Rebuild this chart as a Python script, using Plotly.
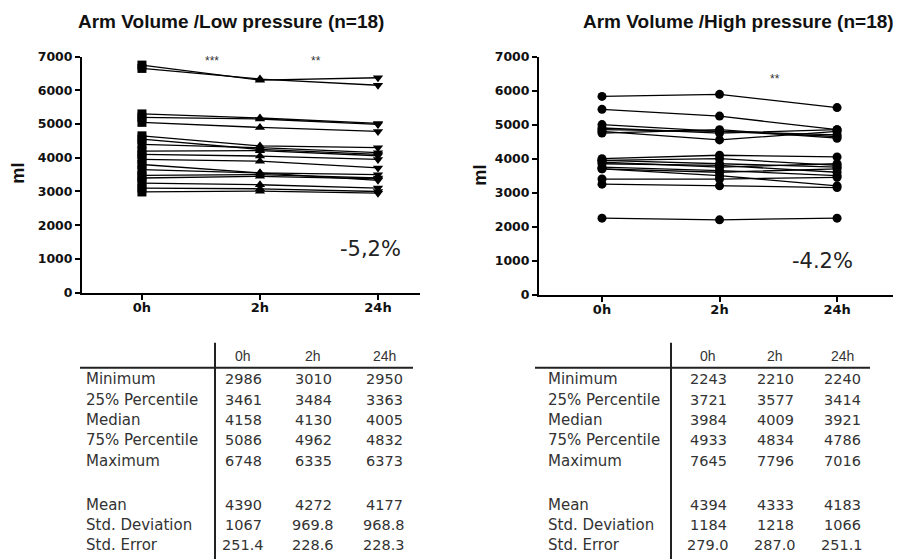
import plotly.graph_objects as go

W, H = 901, 559
OFFX = 8                    # page body margin (horizontal)
SY, OFFY = 0.973, 16.4      # observed vertical mapping of the photographed page
times = ["0h", "2h", "24h"]

# Low pressure arm volumes (ml), 18 subjects: 0h, 2h, 24h
low_0h  = [2986, 3100, 3250, 3400, 3480, 3650, 3800, 3950, 4100, 4200, 4400, 4550, 4650, 5050, 5200, 5300, 6650, 6748]
low_2h  = [3010, 3080, 3200, 3450, 3500, 3550, 3550, 3900, 4050, 4210, 4300, 4250, 4350, 4900, 5150, 5180, 6335, 6300]
low_24h = [2950, 3000, 3100, 3374, 3400, 3330, 3500, 3700, 3950, 4060, 4150, 4100, 4300, 4780, 4990, 5020, 6150, 6373]

# High pressure arm volumes (ml), 18 subjects
high_0h  = [2250, 3250, 3400, 3700, 3700, 3750, 3850, 3900, 3950, 3950, 4000, 4750, 4800, 4850, 4900, 5000, 5450, 5830]
high_2h  = [2200, 3200, 3400, 3600, 3500, 3650, 3800, 3750, 4000, 3850, 4100, 4850, 4550, 4800, 4750, 4800, 5250, 5890]
high_24h = [2250, 3150, 3450, 3700, 3200, 3500, 3600, 3850, 3800, 3750, 4050, 4600, 4800, 4700, 4850, 4650, 4850, 5500]

stat_rows = ["Minimum", "25% Percentile", "Median", "75% Percentile", "Maximum", "", "Mean", "Std. Deviation", "Std. Error"]
low_tab_0h  = ["2986", "3461", "4158", "5086", "6748", "", "4390", "1067", "251.4"]
low_tab_2h  = ["3010", "3484", "4130", "4962", "6335", "", "4272", "969.8", "228.6"]
low_tab_24h = ["2950", "3363", "4005", "4832", "6373", "", "4177", "968.8", "228.3"]
high_tab_0h  = ["2243", "3721", "3984", "4933", "7645", "", "4394", "1184", "279.0"]
high_tab_2h  = ["2210", "3577", "4009", "4834", "7796", "", "4333", "1218", "287.0"]
high_tab_24h = ["2240", "3414", "3921", "4786", "7016", "", "4183", "1066", "251.1"]

ARIAL = "Liberation Sans, Arial, sans-serif"
WIDE = "DejaVu Sans, Verdana, sans-serif"

def px(x):
    return (x - OFFX) / W

def py(y):
    return 1 - ((y - OFFY) / SY) / H

fig = go.Figure()

for a, b, c in zip(low_0h, low_2h, low_24h):
    fig.add_trace(go.Scatter(
        x=times, y=[a, b, c], mode="lines+markers", xaxis="x", yaxis="y",
        line=dict(color="black", width=1.3),
        marker=dict(symbol=["square", "triangle-up", "triangle-down"], size=9, color="black"),
        showlegend=False, cliponaxis=False))

for a, b, c in zip(high_0h, high_2h, high_24h):
    fig.add_trace(go.Scatter(
        x=times, y=[a, b, c], mode="lines+markers", xaxis="x2", yaxis="y2",
        line=dict(color="black", width=1.3),
        marker=dict(symbol="circle", size=9, color="black"),
        showlegend=False, cliponaxis=False))

axis_common = dict(showline=True, linecolor="black", linewidth=2, ticks="outside",
                   ticklen=5, tickwidth=2, tickcolor="black", showgrid=False, zeroline=False,
                   fixedrange=True)
xfont = dict(family=WIDE, size=13, color="#111", weight="bold")
yfont = dict(family=WIDE, size=12.5, color="#111", weight="bold")

fig.update_layout(
    width=W, height=H, margin=dict(l=0, r=0, t=0, b=0),
    paper_bgcolor="white", plot_bgcolor="white",
    xaxis=dict(domain=[px(82), px(420)], range=[-0.508, 2.356], type="category",
               anchor="y", tickfont=xfont, ticklabelstandoff=-3, **axis_common),
    yaxis=dict(domain=[py(293), py(57)], range=[0, 7000], dtick=1000, anchor="x",
               tickfont=yfont, **axis_common),
    xaxis2=dict(domain=[px(539), px(897)], range=[-0.536, 2.51], type="category",
                anchor="y2", tickfont=xfont, ticklabelstandoff=-3, **axis_common),
    yaxis2=dict(domain=[py(295), py(57)], range=[0, 7000], dtick=1000, anchor="x2",
                tickfont=yfont, **axis_common),
)

ann = []
def text(x, y, s, size=13, bold=False, color="#111", xanchor="center", angle=0, family=ARIAL):
    ann.append(dict(x=px(x), y=py(y), xref="paper", yref="paper", text=s, showarrow=False,
                    xanchor=xanchor, yanchor="middle", textangle=angle, borderpad=0,
                    font=dict(family=family, size=size, color=color,
                              weight="bold" if bold else "normal")))

text(231, 22, "Arm Volume /Low pressure (n=18)", size=19, bold=True)
text(738, 22, "Arm Volume /High pressure (n=18)", size=19, bold=True)
text(18, 174, "ml", size=18, bold=True, angle=-90)
text(480, 176, "ml", size=18, bold=True, angle=-90)
text(212, 61, "***", size=12, color="#333")
text(316, 61, "**", size=12, color="#333")
text(775, 79, "**", size=12, color="#333")
text(370, 249, "-5,2%", size=21, color="#222", family=WIDE)
text(822, 261, "-4.2%", size=21, color="#222", family=WIDE)

shapes = []
def line(x0, y0, x1, y1, w=2):
    shapes.append(dict(type="line", xref="paper", yref="paper", x0=px(x0), y0=py(y0),
                       x1=px(x1), y1=py(y1), line=dict(color="#222", width=w)))

row_y = [379, 400, 420, 440, 461, 483, 505, 525, 545]

def table(lab_x, vline_x, hline_x0, hline_x1, col_x, c0, c1, c2):
    line(vline_x, 343, vline_x, 575)
    line(hline_x0, 368, hline_x1, 368)
    for hx, h in zip(col_x, times):
        text(hx, 356, h, size=14, color="#333")
    for yy, lab, v0, v1, v2 in zip(row_y, stat_rows, c0, c1, c2):
        if lab:
            text(lab_x, yy, lab, size=15, color="#333", xanchor="left", family=WIDE)
        for cx, v in zip(col_x, [v0, v1, v2]):
            if v:
                text(cx, yy, v, size=14.5, color="#333", family=WIDE)

table(85, 215, 80, 413, [243, 313, 384], low_tab_0h, low_tab_2h, low_tab_24h)
table(547, 671, 535, 870, [708, 775, 842], high_tab_0h, high_tab_2h, high_tab_24h)

fig.update_layout(annotations=ann, shapes=shapes)
fig.write_html("out.html")
